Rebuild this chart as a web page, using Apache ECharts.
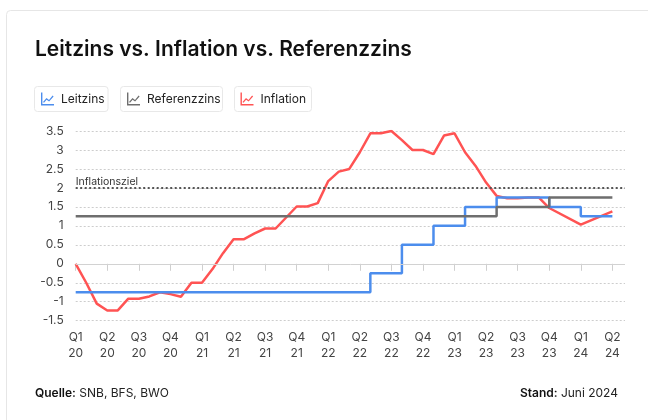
<!DOCTYPE html>
<html>
<head>
<meta charset="utf-8">
<script src="https://cdn.jsdelivr.net/npm/echarts@6/dist/echarts.min.js"></script>
<style>
html,body{margin:0;padding:0;background:#fff;}
#chart{width:648px;height:420px;}
</style>
</head>
<body>
<div id="chart"></div>
<script>
// Quarter tick labels (every 3 months, starting Jan 2020)
const quarterLabels = ['Q1\n20','Q2\n20','Q3\n20','Q4\n20','Q1\n21','Q2\n21','Q3\n21','Q4\n21',
  'Q1\n22','Q2\n22','Q3\n22','Q4\n22','Q1\n23','Q2\n23','Q3\n23','Q4\n23','Q1\n24','Q2\n24'];
const yTicks = [-1.5, -1, -0.5, 0, 0.5, 1, 1.5, 2, 2.5, 3, 3.5];

// Inflation, monthly (index = months since Jan 2020); null = no point drawn
const inflation = [0, -0.5, -1.05, -1.23, -1.23, -0.92, -0.92, -0.86, -0.75, -0.8, -0.87, -0.5,
  -0.5, -0.14, 0.28, 0.65, 0.65, 0.8, 0.93, 0.93, 1.22, 1.51, 1.51, 1.6,
  2.18, 2.43, 2.5, 2.94, 3.44, 3.44, 3.5, 3.26, 3.0, 3.0, 2.89, 3.38,
  3.44, 2.94, 2.58, 2.14, 1.79, 1.73, 1.73, 1.75, 1.75, 1.47, null, null,
  1.03, null, null, 1.38];

// Leitzins (step changes): month index and value
const leitzinsMonths = [0, 28, 31, 34, 37, 40, 45, 48, 51];
const leitzinsValues = [-0.75, -0.25, 0.5, 1.0, 1.5, 1.75, 1.5, 1.25, 1.25];

// Referenzzins (step changes)
const referenzMonths = [0, 40, 45, 51];
const referenzValues = [1.25, 1.5, 1.75, 1.75];

const inflationsziel = 2;

const FONT = 'Inter, "Noto Sans", sans-serif';
const BLUE = '#4c8ded', GRAY = '#6e6e6e', RED = '#ff5353';
const ICON = 'path://M0,0H1.4V11.6H13V13H0Z M2,9.4L5.5,5.4L8,7.4L11.6,3L12.6,3.9L8.1,9.1L5.6,7.2L3,10.3Z';

const quarterTicks = quarterLabels.map((_, i) => i * 3);

const chart = echarts.init(document.getElementById('chart'), null, {renderer: 'canvas'});

function legendFor(name, left) {
  return {
    data: [name], left: left, top: 92.5, padding: 0, orient: 'horizontal',
    itemWidth: 13, itemHeight: 13, itemGap: 0, icon: ICON,
    selectedMode: false,
    textStyle: {fontFamily: FONT, fontSize: 12, color: '#222', padding: [1, 0, 0, 2]}
  };
}

const option = {
  backgroundColor: '#fff',
  animation: false,
  textStyle: {fontFamily: FONT},
  title: {
    text: 'Leitzins vs. Inflation vs. Referenzzins',
    left: 35, top: 39, padding: 0,
    textStyle: {fontFamily: FONT, fontSize: 21, fontWeight: 600, color: '#111'}
  },
  legend: [legendFor('Leitzins', 41), legendFor('Referenzzins', 127), legendFor('Inflation', 240.5)],
  graphic: [
    {type: 'rect', shape: {x: 6.5, y: 10.5, width: 700, height: 500, r: 4}, style: {fill: 'none', stroke: '#e6e6e6', lineWidth: 1}, silent: true},
    {type: 'rect', shape: {x: 34.5, y: 86.5, width: 73.5, height: 25, r: 3}, style: {fill: 'none', stroke: '#e8e8e8', lineWidth: 1}, silent: true},
    {type: 'rect', shape: {x: 120.5, y: 86.5, width: 102, height: 25, r: 3}, style: {fill: 'none', stroke: '#e8e8e8', lineWidth: 1}, silent: true},
    {type: 'rect', shape: {x: 234.5, y: 86.5, width: 77, height: 25, r: 3}, style: {fill: 'none', stroke: '#e8e8e8', lineWidth: 1}, silent: true},
    {type: 'text', left: 35, top: 387, silent: true,
      style: {text: '{b|Quelle:} SNB, BFS, BWO', fontFamily: FONT, fontSize: 12, fill: '#222',
        rich: {b: {fontFamily: FONT, fontSize: 12, fontWeight: 600, fill: '#111'}}}},
    {type: 'text', right: 30, top: 387, silent: true,
      style: {text: '{b|Stand:} Juni 2024', fontFamily: FONT, fontSize: 12, fill: '#222', align: 'right',
        rich: {b: {fontFamily: FONT, fontSize: 12, fontWeight: 600, fill: '#111'}}}}
  ],
  grid: {left: 75.7, right: 23, top: 131, bottom: 99.3, containLabel: false},
  xAxis: {
    type: 'value', min: 0, max: 52.2,
    axisLine: {show: false},
    splitLine: {show: false},
    axisTick: {show: true, length: 7, customValues: quarterTicks, lineStyle: {color: '#cfcfcf'}},
    axisLabel: {
      customValues: quarterTicks, margin: 9, fontFamily: FONT, fontSize: 12, color: '#444', lineHeight: 16,
      formatter: v => quarterLabels[Math.round(v / 3)] || ''
    }
  },
  yAxis: {
    type: 'value', min: yTicks[0], max: yTicks[yTicks.length - 1], interval: 0.5,
    axisLine: {show: false}, axisTick: {show: false},
    axisLabel: {margin: 12, fontFamily: FONT, fontSize: 12, color: '#444', formatter: v => String(v)},
    splitLine: {show: true, lineStyle: {color: '#cdcdcd', type: [2, 2], width: 1}}
  },
  series: [
    {
      name: 'Leitzins', type: 'line', step: 'end', showSymbol: false, symbol: 'none',
      color: BLUE, lineStyle: {color: BLUE, width: 2.5}, z: 3,
      data: leitzinsMonths.map((m, i) => [m, leitzinsValues[i]]),
      markLine: {
        silent: true, symbol: 'none', animation: false,
        data: [
          {yAxis: 0, lineStyle: {color: '#d2d2d2', type: 'solid', width: 1}, label: {show: false}},
          {yAxis: inflationsziel, lineStyle: {color: '#555', type: [2, 2.5], width: 1.8},
            label: {show: true, position: 'insideStartTop', formatter: 'Inflationsziel', distance: [0, 1],
              fontFamily: FONT, fontSize: 10.5, color: '#333'}}
        ]
      }
    },
    {
      name: 'Referenzzins', type: 'line', step: 'end', showSymbol: false, symbol: 'none',
      color: GRAY, lineStyle: {color: GRAY, width: 2.5}, z: 4,
      data: referenzMonths.map((m, i) => [m, referenzValues[i]])
    },
    {
      name: 'Inflation', type: 'line', showSymbol: false, symbol: 'none',
      color: RED, lineStyle: {color: RED, width: 2.5}, z: 2,
      data: inflation.map((v, i) => [i, v]).filter(p => p[1] !== null)
    }
  ]
};
chart.setOption(option);
</script>
</body>
</html>
